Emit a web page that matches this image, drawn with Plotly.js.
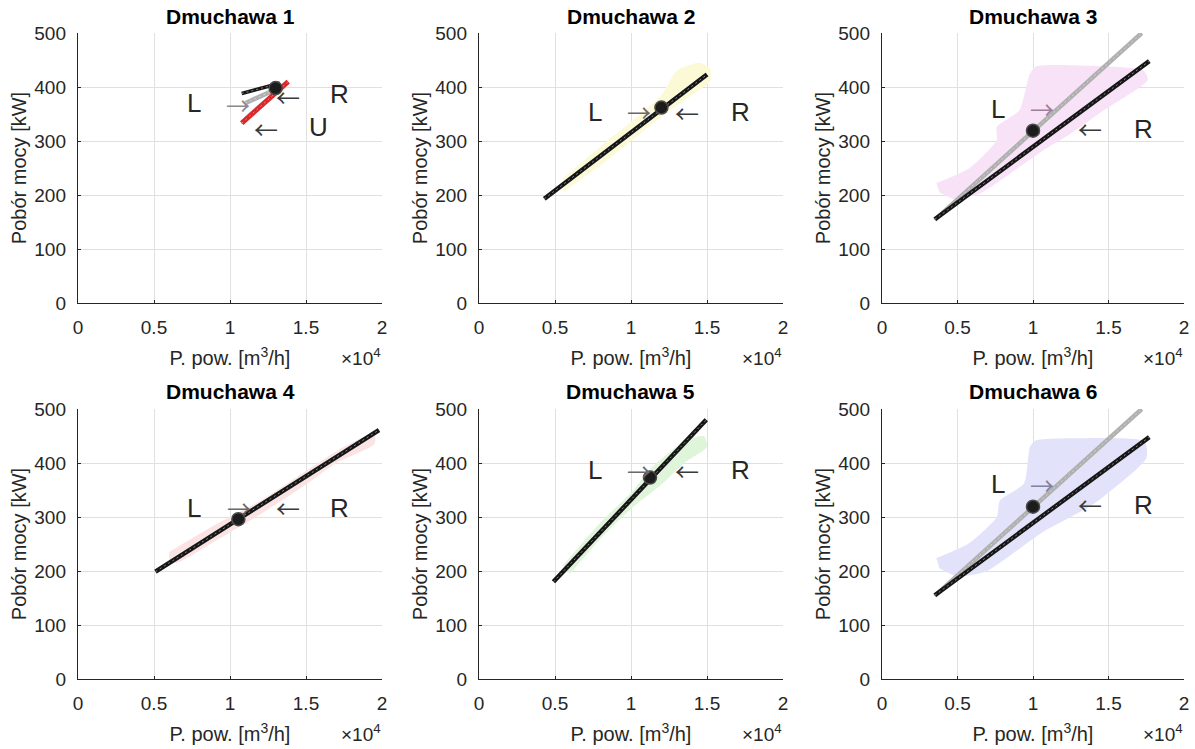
<!DOCTYPE html>
<html>
<head>
<meta charset="utf-8">
<script src="https://cdn.plot.ly/plotly-3.0.1.min.js"></script>
<style>html,body{margin:0;padding:0;background:#fff;}#chart{width:1195px;height:749px;}</style>
</head>
<body>
<div id="chart"></div>
<script>
// ---------------- DATA ----------------
const blowers = ['Dmuchawa 1', 'Dmuchawa 2', 'Dmuchawa 3', 'Dmuchawa 4', 'Dmuchawa 5', 'Dmuchawa 6'];
const xTickVals = [0, 5000, 10000, 15000, 20000];
const xTickText = ['0', '0.5', '1', '1.5', '2'];
const yTickVals = [0, 100, 200, 300, 400, 500];

// measurement clouds (outline of the scatter of measured points), x [m3/h], y [kW]
const cloud1X = [10900, 11600, 12600, 13500, 13700, 13000, 12000, 11200, 10800];
const cloud1Y = [345, 362, 385, 405, 398, 380, 362, 345, 335];
const cloud2X = [5500, 8000, 10000, 12000, 13000, 14500, 15200, 15200, 14000, 12000, 10000, 8000, 5500];
const cloud2Y = [230, 290, 335, 385, 430, 445, 435, 410, 385, 345, 300, 255, 205];
const cloud3X = [3600, 5800, 7600, 7600, 9100, 9800, 10200, 13000, 17300, 17600, 14700, 12500, 10700, 8500, 6500, 4800, 3800];
const cloud3Y = [222, 250, 302, 326, 357, 425, 438, 440, 431, 413, 357, 314, 283, 240, 203, 192, 205];
const cloud4X = [6000, 9000, 12000, 15000, 17500, 19500, 19500, 17000, 15000, 12000, 9000, 6500, 6000];
const cloud4Y = [235, 285, 330, 385, 430, 455, 435, 400, 360, 305, 255, 215, 220];
const cloud5X = [5500, 8000, 10000, 11500, 13500, 14800, 15000, 13500, 12000, 10000, 8000, 6000];
const cloud5Y = [210, 290, 345, 395, 440, 450, 430, 400, 360, 315, 260, 195];
const cloud6X = [3600, 5800, 7600, 7800, 9400, 9800, 10200, 13000, 17400, 17500, 14200, 12500, 10700, 8800, 6900, 5000, 3800];
const cloud6Y = [224, 252, 300, 330, 362, 430, 442, 446, 440, 409, 328, 300, 273, 235, 199, 190, 205];

// characteristic lines: R (right limit), L (left limit), U (blower 1 only)
const lineR_X = [[10770, 13290], [4300, 15000], [3500, 17700], [5100, 19800], [4900, 14950], [3500, 17700]];
const lineR_Y = [[388, 407], [193, 423], [155, 448], [199, 461], [180, 480], [155, 448]];
const lineL_X = [[11000, 13190], [4300, 15000], [3500, 17200], [5100, 19800], [4900, 14950], [3500, 17200]];
const lineL_Y = [[370, 398], [193, 423], [154, 500], [199, 461], [180, 480], [154, 500]];
const lineU_X = [10770, 13830];
const lineU_Y = [333, 410];

// operating points
const pointX = [13000, 12000, 10000, 10550, 11250, 10000];
const pointY = [398, 362, 319, 296, 373, 319];

// labels: L / R letters and arrows
const labelLX = [7600, 7600, 7700, 7650, 7600, 7700];
const labelLY = [370, 354, 359, 316, 387, 361];
const arrowLX = [10500, 10500, 10600, 10600, 10500, 10600];
const arrowLY = [368, 354, 361, 317, 387, 361];
const arrowRX = [13800, 13700, 13750, 13800, 13700, 13750];
const arrowRY = [383, 352, 323, 317, 387, 323];
const labelRX = [17200, 17200, 17300, 17200, 17200, 17300];
const labelRY = [387, 354, 323, 316, 387, 323];
const labelUX = 15850, labelUY = 326;
const arrowUX = 12400, arrowUY = 324;

// ---------------- STYLE ----------------
const cloudColors = ['#e6f5f7', '#fcf9d6', '#f8e2f7', '#fbe3e3', '#dff5da', '#e2e3fa'];
const arrowLColors = ['#8a8a8a', '#6a6a6a', '#9c7f9c', '#6a6a6a', '#6a6a6a', '#7f82a0'];
const FONT = 'Liberation Sans, Arial, Helvetica, sans-serif';
const ARROWFONT = 'Noto Sans CJK JP, DejaVu Sans, sans-serif';
const TXT = '#262626';
const W = 1195, H = 749;
const colPx = [[78, 382], [479, 783], [882, 1184]];
const rowPx = [[33, 303], [409, 679]];

const cloudsX = [cloud1X, cloud2X, cloud3X, cloud4X, cloud5X, cloud6X];
const cloudsY = [cloud1Y, cloud2Y, cloud3Y, cloud4Y, cloud5Y, cloud6Y];

const traces = [];
const annotations = [];
const layout = {
  width: W, height: H,
  margin: {l: 0, r: 0, t: 0, b: 0},
  paper_bgcolor: '#ffffff', plot_bgcolor: '#ffffff',
  showlegend: false,
  font: {family: FONT, color: TXT, size: 19},
  annotations: annotations
};

for (let i = 0; i < 6; i++) {
  const r = Math.floor(i / 3), c = i % 3;
  const xa = i === 0 ? 'x' : 'x' + (i + 1);
  const ya = i === 0 ? 'y' : 'y' + (i + 1);
  const xk = i === 0 ? 'xaxis' : 'xaxis' + (i + 1);
  const yk = i === 0 ? 'yaxis' : 'yaxis' + (i + 1);
  const dx = [colPx[c][0] / W, colPx[c][1] / W];
  const dy = [1 - rowPx[r][1] / H, 1 - rowPx[r][0] / H];

  layout[xk] = {
    domain: dx, anchor: ya, range: [0, 20000],
    tickvals: xTickVals, ticktext: xTickText,
    showgrid: true, gridcolor: '#e0e0e0', gridwidth: 1,
    zeroline: false, showline: true, linecolor: TXT, linewidth: 1.2,
    ticks: 'inside', ticklen: 3, tickcolor: TXT,
    ticklabelstandoff: 7,
    tickfont: {family: FONT, size: 19, color: TXT},
    title: {text: 'P. pow. [m<sup>3</sup>/h]', font: {family: FONT, size: 20, color: TXT}, standoff: 14},
    fixedrange: true
  };
  layout[yk] = {
    domain: dy, anchor: xa, range: [0, 500],
    tickvals: yTickVals,
    showgrid: true, gridcolor: '#e0e0e0', gridwidth: 1,
    zeroline: false, showline: true, linecolor: TXT, linewidth: 1.2,
    ticks: 'inside', ticklen: 3, tickcolor: TXT,
    ticklabelstandoff: 7,
    tickfont: {family: FONT, size: 19, color: TXT},
    title: {text: 'Pobór mocy [kW]', font: {family: FONT, size: 20, color: TXT}, standoff: 2},
    fixedrange: true
  };

  // cloud of measured points
  traces.push({
    type: 'scatter', mode: 'lines', x: cloudsX[i], y: cloudsY[i], xaxis: xa, yaxis: ya,
    fill: 'toself', fillcolor: cloudColors[i], line: {width: 0, color: cloudColors[i], shape: 'spline', smoothing: 0.6}, hoverinfo: 'skip'
  });
  // L line (gray)
  traces.push({
    type: 'scatter', mode: 'lines', x: lineL_X[i], y: lineL_Y[i], xaxis: xa, yaxis: ya,
    line: {color: '#b0b0b0', width: 4.5}, hoverinfo: 'skip'
  });
  traces.push({
    type: 'scatter', mode: 'lines', x: lineL_X[i], y: lineL_Y[i], xaxis: xa, yaxis: ya,
    line: {color: '#d4d4d4', width: 1, dash: '2px,3px'}, hoverinfo: 'skip'
  });
  if (i === 0) {
    traces.push({
      type: 'scatter', mode: 'lines', x: lineU_X, y: lineU_Y, xaxis: xa, yaxis: ya,
      line: {color: '#d9282a', width: 5}, hoverinfo: 'skip'
    });
    traces.push({
      type: 'scatter', mode: 'lines', x: lineU_X, y: lineU_Y, xaxis: xa, yaxis: ya,
      line: {color: '#f08080', width: 1, dash: '2px,3px'}, hoverinfo: 'skip'
    });
  }
  // R line (black)
  traces.push({
    type: 'scatter', mode: 'lines', x: lineR_X[i], y: lineR_Y[i], xaxis: xa, yaxis: ya,
    line: {color: '#161616', width: i === 0 ? 3.5 : 4.5}, hoverinfo: 'skip'
  });
  traces.push({
    type: 'scatter', mode: 'lines', x: lineR_X[i], y: lineR_Y[i], xaxis: xa, yaxis: ya,
    line: {color: '#8a8a8a', width: 1, dash: '2px,3px'}, hoverinfo: 'skip'
  });
  // operating point
  traces.push({
    type: 'scatter', mode: 'markers', x: [pointX[i]], y: [pointY[i]], xaxis: xa, yaxis: ya,
    marker: {color: '#1c1c1c', size: 13, line: {color: '#4a4a4a', width: 1.5}}, hoverinfo: 'skip'
  });

  // title
  annotations.push({
    xref: 'paper', yref: 'paper', x: (dx[0] + dx[1]) / 2, y: 1 - (r === 0 ? 16 : 392) / H,
    xanchor: 'center', yanchor: 'middle', showarrow: false,
    text: '<b>' + blowers[i] + '</b>', font: {family: FONT, size: 21, color: '#000'}
  });
  // x10^4 multiplier
  annotations.push({
    xref: 'paper', yref: 'paper', x: (colPx[c][1] + 1) / W, y: 1 - (rowPx[r][1] + 54) / H,
    xanchor: 'right', yanchor: 'middle', showarrow: false,
    text: '\u00d710<sup>4</sup>', font: {family: FONT, size: 19, color: TXT}
  });
  // L / R labels and arrows
  annotations.push({xref: xa, yref: ya, x: labelLX[i], y: labelLY[i], showarrow: false, text: 'L',
    xanchor: 'center', yanchor: 'middle', font: {family: FONT, size: 26, color: TXT}});
  annotations.push({xref: xa, yref: ya, x: labelRX[i], y: labelRY[i], showarrow: false, text: 'R',
    xanchor: 'center', yanchor: 'middle', font: {family: FONT, size: 26, color: TXT}});
  annotations.push({xref: xa, yref: ya, x: arrowLX[i], y: arrowLY[i], showarrow: false, text: '\u2192',
    xanchor: 'center', yanchor: 'middle', font: {family: ARROWFONT, size: 24, color: arrowLColors[i]}});
  annotations.push({xref: xa, yref: ya, x: arrowRX[i], y: arrowRY[i], showarrow: false, text: '\u2190',
    xanchor: 'center', yanchor: 'middle', font: {family: ARROWFONT, size: 24, color: '#3a3a3a'}});
  if (i === 0) {
    annotations.push({xref: xa, yref: ya, x: labelUX, y: labelUY, showarrow: false, text: 'U',
      xanchor: 'center', yanchor: 'middle', font: {family: FONT, size: 26, color: TXT}});
    annotations.push({xref: xa, yref: ya, x: arrowUX, y: arrowUY, showarrow: false, text: '\u2190',
      xanchor: 'center', yanchor: 'middle', font: {family: ARROWFONT, size: 24, color: '#3a3a3a'}});
  }
}

Plotly.newPlot('chart', traces, layout, {staticPlot: true, displayModeBar: false});
</script>
</body>
</html>
